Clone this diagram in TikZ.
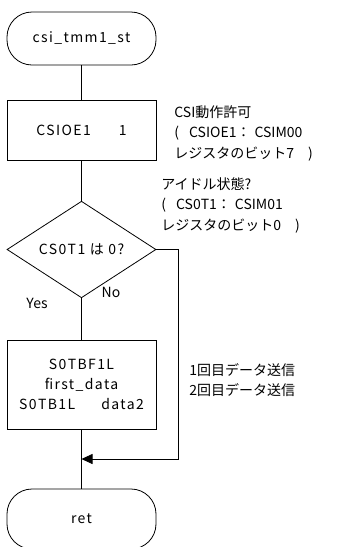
\documentclass[tikz,border=0pt]{standalone}
\usepackage{fontspec}
\setmainfont{Noto Sans CJK JP}
\newfontfamily\spaced[LetterSpace=10]{Noto Sans CJK JP}
\usetikzlibrary{shapes.geometric,arrows.meta}
\begin{document}
\begin{tikzpicture}[x=1pt,y=-1pt,
  line width=0.8pt,
  every node/.style={font=\fontsize{14}{20.5}\selectfont},
  terminal/.style={draw, rectangle, rounded corners=25pt, minimum width=149pt, minimum height=#1, inner sep=0pt, font=\fontsize{14}{20}\selectfont\spaced},
  procbox/.style={draw, rectangle, minimum width=149pt, minimum height=#1, inner sep=0pt, font=\fontsize{14}{20}\selectfont\spaced},
  decision/.style={draw, diamond, minimum width=149pt, minimum height=89pt, inner sep=0pt, font=\fontsize{14}{20}\selectfont\spaced},
  note/.style={anchor=west, inner sep=0pt},
  flow/.style={draw},
  arr/.style={-{Triangle[length=11pt,width=10pt]}}
]
\useasboundingbox (0,0) rectangle (347,547);

% flow chart symbols
\node[terminal=53pt] (start) at (81.5,38.5) {csi\_tmm1\_st};
\node[procbox=60pt] (enable) at (81.5,130) {CSIOE1\hspace{28pt}1};
\node[decision] (idle) at (81.5,249.5) {CS0T1 は 0?};
\node[procbox=89pt, align=center] (send) at (81.5,384.5)
  {S0TBF1L\\first\_data\\S0TB1L\hspace{26pt}data2};
\node[terminal=60pt] (ret) at (81.5,519) {ret};

% branch labels
\node[inner sep=0pt] (yes) at (37,303) {Yes};
\node[inner sep=0pt] (no) at (111,292) {No};

% comments
\node[note, align=left] (c1) at (174,133)
  {CSI動作許可\\(\hspace{10pt}CSIOE1：\hspace{4pt}CSIM00\\レジスタのビット7\hspace{14pt})};
\node[note, align=left] (c2) at (161,205)
  {アイドル状態?\\(\hspace{10pt}CS0T1：\hspace{4pt}CSIM01\\レジスタのビット0\hspace{14pt})};
\node[note, align=left] (c3) at (189,380)
  {1回目データ送信\\2回目データ送信};

% connectors
\coordinate (merge) at (81.5,459);
\coordinate (bend1) at (178,249.5);
\coordinate (bend2) at (178,459);
\draw[flow] (start) -- (enable);
\draw[flow] (enable) -- (idle);
\draw[flow] (idle.south) -- (send);
\draw[flow] (send) -- (ret);
\draw[flow, arr] (idle.east) -- (bend1) -- (bend2) -- (merge);
\end{tikzpicture}
\end{document}
